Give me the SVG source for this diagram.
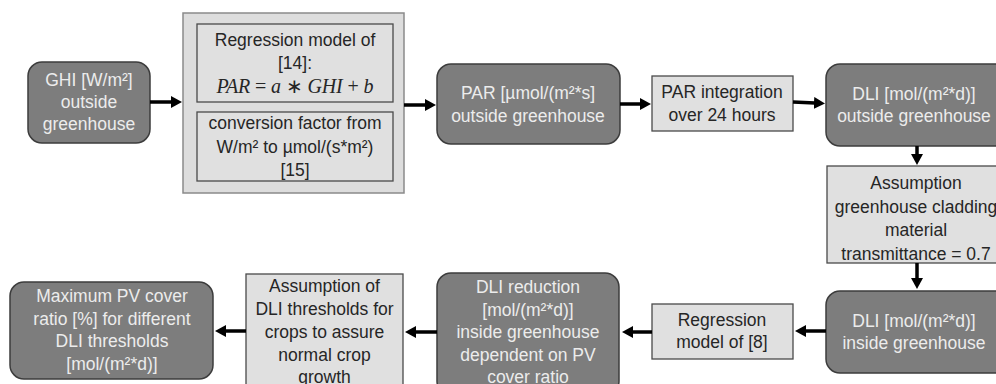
<svg xmlns="http://www.w3.org/2000/svg" width="996" height="384" viewBox="0 0 996 384">
<defs>
<marker id="ah" markerUnits="userSpaceOnUse" markerWidth="12" markerHeight="12" refX="1" refY="6" orient="auto">
<path d="M0,0 L11,6 L0,12 z" fill="#000"/>
</marker>
</defs>
<style>
.dark rect{fill:#7d7d7d;stroke:#3c3c3c;stroke-width:1.5}
.light rect{fill:#e0e0e0;stroke:#4a4a4a;stroke-width:1.3}
.outer{fill:#dddddd;stroke:#8a8a8a;stroke-width:1.5}
text{font-family:"Liberation Sans",Arial,sans-serif;font-size:17.5px;text-anchor:middle}
.dark text{fill:#ececec}
.light text{fill:#262626}
.math{font-family:"Liberation Serif","Times New Roman",serif;font-size:20px}
.conn path{stroke:#000;stroke-width:3.5;fill:none;marker-end:url(#ah)}
</style>
<rect width="996" height="384" fill="#ffffff"/>

<g id="ghi" class="dark">
<rect x="28" y="62" width="122" height="81" rx="14"/>
<text x="89" y="86">GHI [W/m²]</text>
<text x="89" y="108">outside</text>
<text x="89" y="130">greenhouse</text>
</g>

<g id="conversion">
<rect class="outer" x="183" y="13" width="221" height="180"/>
<g id="regression14" class="light">
<rect x="197" y="24" width="196" height="78"/>
<text x="295" y="46">Regression model of</text>
<text x="295" y="69">[14]:</text>
<text x="295" y="93" class="math" textLength="157" lengthAdjust="spacing"><tspan font-style="italic">PAR</tspan> = <tspan font-style="italic">a</tspan> ∗ <tspan font-style="italic">GHI</tspan> + <tspan font-style="italic">b</tspan></text>
</g>
<g id="factor15" class="light">
<rect x="197" y="112" width="196" height="69"/>
<text x="295" y="129">conversion factor from</text>
<text x="295" y="153">W/m² to µmol/(s*m²)</text>
<text x="295" y="176">[15]</text>
</g>
</g>

<g id="par" class="dark">
<rect x="437" y="64" width="183" height="80" rx="14"/>
<text x="528" y="99">PAR [µmol/(m²*s]</text>
<text x="528" y="122">outside greenhouse</text>
</g>

<g id="integration" class="light">
<rect x="652" y="76" width="141" height="55"/>
<text x="722" y="98">PAR integration</text>
<text x="722" y="121">over 24 hours</text>
</g>

<g id="dli_out" class="dark">
<rect x="826" y="64" width="184" height="82" rx="14"/>
<text x="914" y="100">DLI [mol/(m²*d)]</text>
<text x="914" y="122">outside greenhouse</text>
</g>

<g id="transmittance" class="light">
<rect x="827" y="166" width="183" height="97"/>
<text x="916" y="189">Assumption</text>
<text x="916" y="212.5">greenhouse cladding</text>
<text x="916" y="236">material</text>
<text x="916" y="259.5">transmittance = 0.7</text>
</g>

<g id="dli_in" class="dark">
<rect x="826" y="291" width="184" height="82" rx="14"/>
<text x="914" y="327">DLI [mol/(m²*d)]</text>
<text x="914" y="349">inside greenhouse</text>
</g>

<g id="regression8" class="light">
<rect x="652" y="304" width="141" height="55"/>
<text x="722" y="326">Regression</text>
<text x="722" y="348">model of [8]</text>
</g>

<g id="dli_red" class="dark">
<rect x="437" y="273" width="182" height="122" rx="14"/>
<text x="528" y="293">DLI reduction</text>
<text x="528" y="315.5">[mol/(m²*d)]</text>
<text x="528" y="338">inside greenhouse</text>
<text x="528" y="360.5">dependent on PV</text>
<text x="528" y="383">cover ratio</text>
</g>

<g id="thresholds" class="light">
<rect x="246" y="274" width="157" height="122"/>
<text x="324.5" y="292">Assumption of</text>
<text x="324.5" y="315">DLI thresholds for</text>
<text x="324.5" y="338">crops to assure</text>
<text x="324.5" y="361">normal crop</text>
<text x="324.5" y="383">growth</text>
</g>

<g id="maxpv" class="dark">
<rect x="10" y="282" width="203" height="97" rx="14"/>
<text x="112" y="302">Maximum PV cover</text>
<text x="112" y="324.5">ratio [%] for different</text>
<text x="112" y="347">DLI thresholds</text>
<text x="112" y="369.5">[mol/(m²*d)]</text>
</g>

<g id="connectors" class="conn">
<path d="M150,102 H172"/>
<path d="M404,105 H426"/>
<path d="M620,104 H641"/>
<path d="M793,102 L815,103"/>
<path d="M917,146 V155"/>
<path d="M917,263 V279"/>
<path d="M826,331 H805"/>
<path d="M652,332 H632"/>
<path d="M437,332 H415"/>
<path d="M246,331 H225"/>
</g>
</svg>
